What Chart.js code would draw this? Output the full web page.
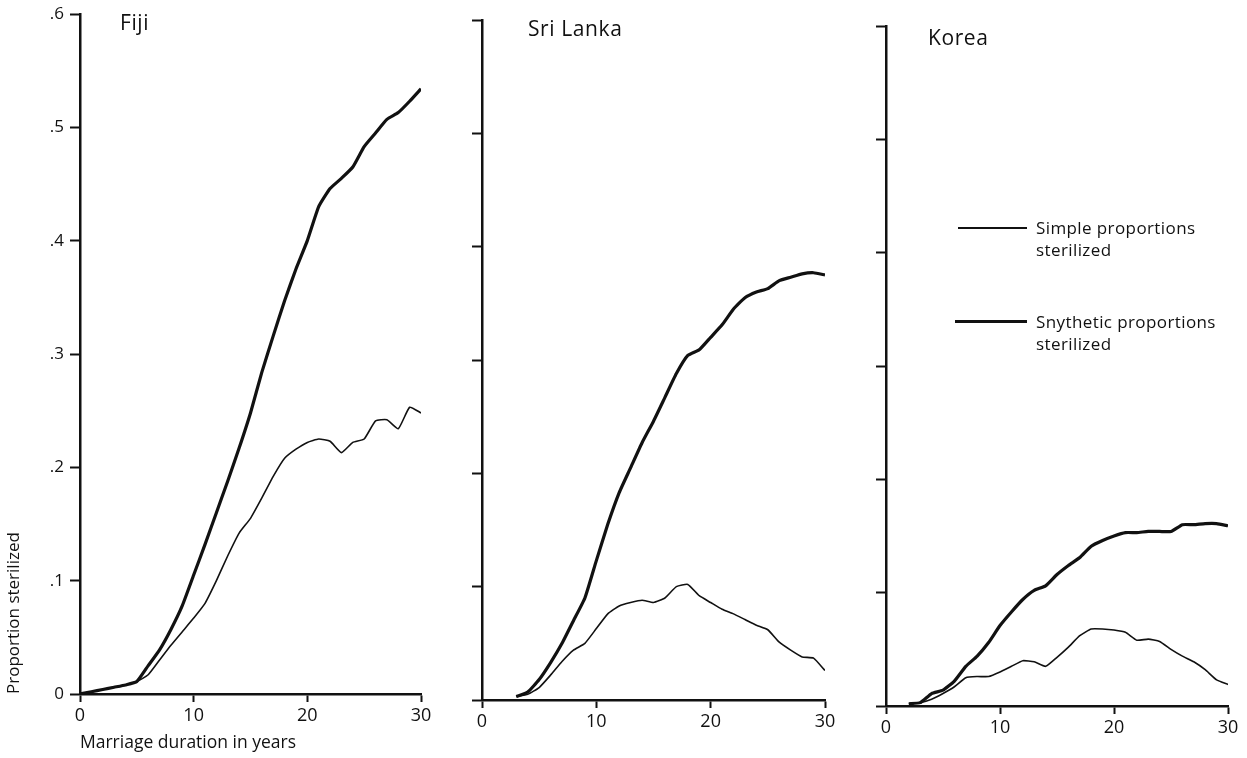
<!DOCTYPE html>
<html>
<head>
<meta charset="utf-8">
<title>Proportion sterilized by marriage duration</title>
<script src="https://cdn.jsdelivr.net/npm/chart.js@4.4.1/dist/chart.umd.min.js"></script>
<style>
  body { margin: 0; background: #fff; font-family: "Open Sans", Lato, sans-serif; color: #111; }
  #wrap { position: relative; width: 1247px; height: 758px; overflow: hidden; }
  #wrap canvas { position: absolute; top: 0; }
  .country { position: absolute; font-size: 21px; line-height: 24px; white-space: nowrap; letter-spacing: 0.6px; }
  .legend-item { position: absolute; left: 1036px; font-size: 17px; line-height: 22px; letter-spacing: 0.4px; white-space: nowrap; }
  .legend-item .swatch { position: absolute; top: 10px; background: #111; }
</style>
</head>
<body>
<div id="wrap">
  <canvas id="fijiChart" width="450" height="758" style="left:-10px;"></canvas>
  <canvas id="sriLankaChart" width="420" height="758" style="left:440px;"></canvas>
  <canvas id="koreaChart" width="387" height="758" style="left:860px;"></canvas>

  <div class="country" style="left:120px; top:10px;">Fiji</div>
  <div class="country" style="left:528px; top:16px;">Sri Lanka</div>
  <div class="country" style="left:928px; top:25px;">Korea</div>

  <div class="legend-item" style="top:217px;">
    <span class="swatch" style="left:-78px; width:69px; height:1.6px;"></span>
    Simple proportions<br>sterilized
  </div>
  <div class="legend-item" style="top:311px;">
    <span class="swatch" style="left:-81px; width:72px; height:3px; top:9px;"></span>
    Snythetic proportions<br>sterilized
  </div>
</div>

<script>
// marriage duration (years) for each country
const fijiYears = [0, 1, 2, 3, 4, 5, 6, 7, 8, 9, 10, 11, 12, 13, 14, 15, 16, 17, 18, 19, 20, 21, 22, 23, 24, 25, 26, 27, 28, 29, 30];
const sriLankaYears = [3, 4, 5, 6, 7, 8, 9, 10, 11, 12, 13, 14, 15, 16, 17, 18, 19, 20, 21, 22, 23, 24, 25, 26, 27, 28, 29, 30];
const koreaYears = [2, 3, 4, 5, 6, 7, 8, 9, 10, 11, 12, 13, 14, 15, 16, 17, 18, 19, 20, 21, 22, 23, 24, 25, 26, 27, 28, 29, 30];

// simple proportions sterilized (thin line)
const fijiSimple = [0, 0.002, 0.004, 0.006, 0.008, 0.011, 0.017, 0.03, 0.043, 0.055, 0.067, 0.08, 0.1, 0.122, 0.142, 0.155, 0.173, 0.192, 0.208, 0.216, 0.222, 0.225, 0.223, 0.213, 0.222, 0.225, 0.241, 0.242, 0.234, 0.253, 0.248];
const sriLankaSimple = [0.003, 0.005, 0.011, 0.022, 0.034, 0.044, 0.05, 0.063, 0.076, 0.083, 0.086, 0.088, 0.086, 0.09, 0.1, 0.102, 0.092, 0.086, 0.08, 0.076, 0.071, 0.066, 0.062, 0.051, 0.044, 0.038, 0.037, 0.026];
const koreaSimple = [0.002, 0.003, 0.006, 0.011, 0.017, 0.025, 0.026, 0.026, 0.03, 0.035, 0.04, 0.039, 0.035, 0.043, 0.052, 0.062, 0.068, 0.068, 0.067, 0.065, 0.058, 0.059, 0.057, 0.05, 0.044, 0.039, 0.032, 0.023, 0.019];

// synthetic proportions sterilized (thick line)
const fijiSynthetic = [0, 0.002, 0.004, 0.006, 0.008, 0.011, 0.025, 0.039, 0.057, 0.078, 0.105, 0.132, 0.16, 0.188, 0.217, 0.248, 0.284, 0.316, 0.347, 0.375, 0.4, 0.43, 0.446, 0.455, 0.465, 0.483, 0.495, 0.507, 0.513, 0.523, 0.534];
const sriLankaSynthetic = [0.003, 0.007, 0.018, 0.033, 0.05, 0.07, 0.09, 0.123, 0.155, 0.183, 0.205, 0.227, 0.246, 0.267, 0.288, 0.304, 0.309, 0.32, 0.331, 0.345, 0.355, 0.36, 0.363, 0.37, 0.373, 0.376, 0.377, 0.375];
const koreaSynthetic = [0.002, 0.003, 0.011, 0.014, 0.022, 0.035, 0.044, 0.056, 0.071, 0.083, 0.094, 0.102, 0.106, 0.116, 0.124, 0.131, 0.141, 0.146, 0.15, 0.153, 0.153, 0.154, 0.154, 0.154, 0.16, 0.16, 0.161, 0.161, 0.159];

const yTicks = [0, 0.1, 0.2, 0.3, 0.4, 0.5, 0.6];
const xTicks = [0, 10, 20, 30];

const ink = "#111";
Chart.defaults.font.family = '"Open Sans", Lato, sans-serif';
Chart.defaults.color = ink;

function toPoints(years, values) {
  return years.map((yr, i) => ({ x: yr, y: values[i] }));
}

function makePanel(id, years, simple, synth, box) {
  const ctx = document.getElementById(id).getContext("2d");
  return new Chart(ctx, {
    type: "line",
    data: {
      datasets: [
        {
          label: "Simple proportions sterilized",
          data: toPoints(years, simple),
          borderColor: ink,
          borderWidth: 1.6,
          pointRadius: 0,
          tension: 0.15,
          borderJoinStyle: "round"
        },
        {
          label: "Snythetic proportions sterilized",
          data: toPoints(years, synth),
          borderColor: ink,
          borderWidth: 3.2,
          pointRadius: 0,
          tension: 0.15,
          borderJoinStyle: "round"
        }
      ]
    },
    options: {
      responsive: false,
      animation: false,
      layout: { padding: { left: box.padLeft, right: box.padRight, top: box.top, bottom: 0 } },
      plugins: { legend: { display: false }, tooltip: { enabled: false } },
      scales: {
        x: {
          type: "linear",
          min: 0,
          max: 30,
          afterBuildTicks: s => { s.ticks = xTicks.map(v => ({ value: v })); },
          ticks: { font: { size: 18 }, padding: 3, maxRotation: 0, color: ink },
          grid: { drawOnChartArea: false, tickLength: 8, tickColor: ink, tickWidth: 2 },
          border: { color: ink, width: 2.5 },
          title: {
            display: !!box.xTitle,
            text: box.xTitle || "",
            align: "start",
            color: ink,
            font: { size: 17.5 },
            padding: { top: 0, bottom: 4 }
          },
          afterFit: s => { s.height = box.xHeight; s.paddingLeft = 0; s.paddingRight = 0; }
        },
        y: {
          min: 0,
          max: 0.6,
          afterBuildTicks: s => { s.ticks = yTicks.map(v => ({ value: v })); },
          ticks: {
            font: { size: 17 },
            padding: 6,
            color: ink,
            callback: v => {
              if (!box.yLabels) return "";
              return v === 0 ? "0" : String(Math.round(v * 10) / 10).replace(/^0/, "");
            }
          },
          grid: { drawOnChartArea: false, tickLength: 10, tickColor: ink, tickWidth: 2 },
          border: { color: ink, width: 2.5 },
          title: {
            display: !!box.yTitle,
            text: box.yTitle || "",
            align: "start",
            color: ink,
            font: { size: 17 },
            padding: { top: 0, bottom: 0 }
          },
          afterFit: s => { s.width = box.yWidth; s.paddingTop = 0; s.paddingBottom = 0; }
        }
      }
    }
  });
}

// each canvas only covers its own panel; paddings are relative to the canvas
// (the Fiji canvas starts 10px left of the page, so its padding is 10px larger)
makePanel("fijiChart", fijiYears, fijiSimple, fijiSynthetic, {
  padLeft: 14, yWidth: 76, padRight: 19, top: 14, xHeight: 64,
  yLabels: true, xTitle: "Marriage duration in years", yTitle: "Proportion sterilized"
});
makePanel("sriLankaChart", sriLankaYears, sriLankaSimple, sriLankaSynthetic, {
  padLeft: 2, yWidth: 40, padRight: 35, top: 20, xHeight: 58, yLabels: false
});
makePanel("koreaChart", koreaYears, koreaSimple, koreaSynthetic, {
  padLeft: 2, yWidth: 24, padRight: 19, top: 26, xHeight: 52, yLabels: false
});
</script>
</body>
</html>
